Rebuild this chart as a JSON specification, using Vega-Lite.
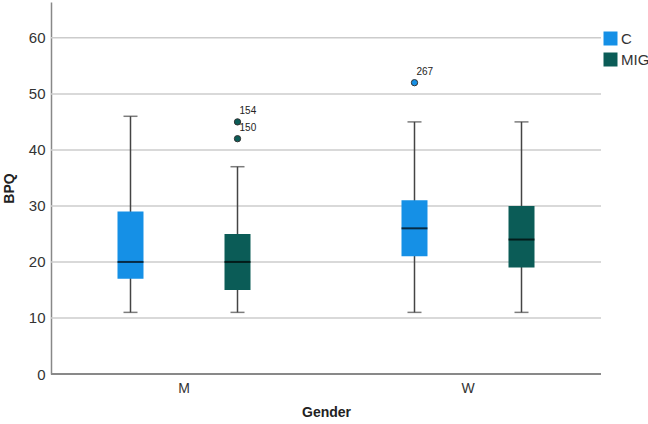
{
  "$schema": "https://vega.github.io/schema/vega-lite/v6.json",
  "autosize": "none",
  "width": 550,
  "height": 372,
  "padding": {"left": 51, "top": 2, "right": 47, "bottom": 50},
  "background": "white",
  "config": {
    "font": "Liberation Sans",
    "view": {"stroke": null}
  },
  "datasets": {
    "stats": [
      {"Gender": "M", "Group": "C", "lower": 11, "q1": 17, "median": 20, "q3": 29, "upper": 46},
      {"Gender": "M", "Group": "MIG", "lower": 11, "q1": 15, "median": 20, "q3": 25, "upper": 37},
      {"Gender": "W", "Group": "C", "lower": 11, "q1": 21, "median": 26, "q3": 31, "upper": 45},
      {"Gender": "W", "Group": "MIG", "lower": 11, "q1": 19, "median": 24, "q3": 30, "upper": 45}
    ],
    "outliers": [
      {"Gender": "M", "Group": "MIG", "value": 45, "label": "154"},
      {"Gender": "M", "Group": "MIG", "value": 42, "label": "150"},
      {"Gender": "W", "Group": "C", "value": 52, "label": "267"}
    ],
    "gridlines": [
      {"level": 10}, {"level": 20}, {"level": 30}, {"level": 40}, {"level": 50}, {"level": 60}
    ]
  },
  "layer": [
    {
      "data": {"name": "gridlines"},
      "mark": {"type": "rule", "color": "#cccccc", "strokeWidth": 1.5},
      "encoding": {"y": {"field": "level", "type": "quantitative"}}
    },
    {
      "data": {"name": "stats"},
      "mark": {"type": "rule", "color": "#888888", "strokeWidth": 1.5},
      "encoding": {"y": {"datum": 0, "type": "quantitative"}}
    },
    {
      "data": {"name": "stats"},
      "mark": {"type": "rule", "color": "#444444", "strokeWidth": 1.5},
      "encoding": {
        "x": {
          "field": "Gender", "type": "nominal",
          "scale": {"domain": ["M", "W"], "range": [-9, 559], "paddingInner": 0, "paddingOuter": 0},
          "axis": {
            "title": "Gender", "labelAngle": 0, "ticks": false, "domain": false,
            "labelFontSize": 14, "labelColor": "#333333", "labelPadding": 7,
            "titleFontSize": 14, "titleFontWeight": "bold", "titleColor": "#222222", "titlePadding": 10
          }
        },
        "xOffset": {
          "field": "Group", "type": "nominal",
          "scale": {"domain": ["C", "MIG"], "paddingInner": 0, "paddingOuter": 0.327}
        },
        "y": {
          "field": "lower", "type": "quantitative",
          "scale": {"domain": [0, 66.4], "nice": false, "zero": true},
          "axis": {
            "title": "BPQ", "values": [0, 10, 20, 30, 40, 50, 60], "ticks": false,
            "grid": false,
            "domainColor": "#888888", "domainWidth": 1.5,
            "labelFontSize": 15, "labelColor": "#333333", "labelPadding": 6,
            "titleFontSize": 14, "titleFontWeight": "bold", "titleColor": "#222222", "titlePadding": 12
          }
        },
        "y2": {"field": "upper"}
      }
    },
    {
      "data": {"name": "stats"},
      "mark": {"type": "tick", "color": "#444444", "size": 14, "thickness": 1.5},
      "encoding": {
        "x": {"field": "Gender", "type": "nominal"},
        "xOffset": {"field": "Group", "type": "nominal"},
        "y": {"field": "upper", "type": "quantitative"}
      }
    },
    {
      "data": {"name": "stats"},
      "mark": {"type": "tick", "color": "#444444", "size": 14, "thickness": 1.5},
      "encoding": {
        "x": {"field": "Gender", "type": "nominal"},
        "xOffset": {"field": "Group", "type": "nominal"},
        "y": {"field": "lower", "type": "quantitative"}
      }
    },
    {
      "data": {"name": "stats"},
      "mark": {"type": "bar", "size": 26},
      "encoding": {
        "x": {"field": "Gender", "type": "nominal"},
        "xOffset": {"field": "Group", "type": "nominal"},
        "y": {"field": "q1", "type": "quantitative"},
        "y2": {"field": "q3"},
        "color": {
          "field": "Group", "type": "nominal",
          "scale": {"domain": ["C", "MIG"], "range": ["#1590E6", "#0B5C57"]},
          "legend": {
            "title": null, "orient": "none", "legendX": 552, "legendY": 29,
            "symbolType": "square", "symbolSize": 196, "symbolStrokeWidth": 0,
            "labelFontSize": 15, "labelColor": "#333333", "rowPadding": 5, "labelOffset": 3
          }
        }
      }
    },
    {
      "data": {"name": "stats"},
      "mark": {"type": "tick", "color": "#000000", "size": 26, "thickness": 2},
      "encoding": {
        "x": {"field": "Gender", "type": "nominal"},
        "xOffset": {"field": "Group", "type": "nominal"},
        "y": {"field": "median", "type": "quantitative"}
      }
    },
    {
      "data": {"name": "outliers"},
      "mark": {"type": "point", "filled": true, "size": 40, "stroke": "#333333", "strokeWidth": 1, "opacity": 1},
      "encoding": {
        "x": {"field": "Gender", "type": "nominal"},
        "xOffset": {"field": "Group", "type": "nominal"},
        "y": {"field": "value", "type": "quantitative"},
        "fill": {"field": "Group", "type": "nominal", "scale": {"domain": ["C", "MIG"], "range": ["#1590E6", "#0B5C57"]}, "legend": null}
      }
    },
    {
      "data": {"name": "outliers"},
      "mark": {"type": "text", "align": "left", "dx": 2, "dy": -11, "fontSize": 10, "color": "#222222"},
      "encoding": {
        "x": {"field": "Gender", "type": "nominal"},
        "xOffset": {"field": "Group", "type": "nominal"},
        "y": {"field": "value", "type": "quantitative"},
        "text": {"field": "label"}
      }
    }
  ]
}
